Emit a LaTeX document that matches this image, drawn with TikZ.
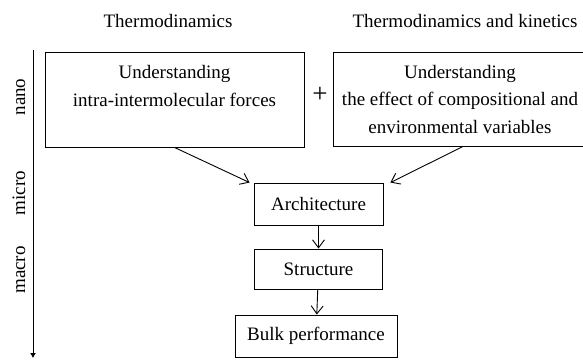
\documentclass[tikz,border=0pt]{standalone}
\usepackage{fontspec}
\setmainfont{Liberation Serif}
\usetikzlibrary{arrows.meta}

\begin{document}
\begin{tikzpicture}[
  x=1pt, y=-1pt,
  font=\fontsize{19}{27.5}\selectfont,
  box/.style={draw, line width=0.9pt, align=center, inner sep=3pt},
  flow/.style={draw, line width=0.9pt, ->, >={Straight Barb[length=8pt, width=12pt]}},
  scalelbl/.style={rotate=90, anchor=base},
  head/.style={anchor=center},
]
\clip (0,0) rectangle (583,359);
% header texts
\node[head] (thermo)  at (168,21) {Thermodinamics};
\node[head] (thermok) at (465,21) {Thermodinamics and kinetics};
% size axis on the left
\coordinate (axtop) at (33,50);
\coordinate (axbot) at (33,358);
\draw[line width=0.9pt, -{Latex[length=5pt, width=6pt]}] (axtop) -- (axbot);
\node[scalelbl] (nano)  at (25,97)  {nano};
\node[scalelbl] (micro) at (25,193) {micro};
\node[scalelbl] (macro) at (25,270) {macro};
% the two upper boxes
\node[box, minimum width=259pt, minimum height=95pt] (forces) at (174.5,99.5)
  {Understanding\\intra-intermolecular forces\\\mbox{}};
\node[font=\fontsize{27}{27}\selectfont] (plus) at (320,95) {+};
\node[box, minimum width=254pt, minimum height=94pt] (variables) at (460,99)
  {Understanding\\the effect of compositional and\\environmental variables};
% chain
\node[box, minimum width=129pt, minimum height=42pt] (arch)   at (318.5,204) {Architecture};
\node[box, minimum width=128pt, minimum height=40pt] (struct) at (318.5,269) {Structure};
\node[box, minimum width=162pt, minimum height=42pt] (bulk)   at (316,336)   {Bulk performance};
% connectors
\draw[flow] (forces.south) -- ([xshift=-4pt]arch.north west);
\draw[flow] ([xshift=3pt]variables.south) -- ([xshift=7pt]arch.north east);
\draw[flow] (arch) -- (struct);
\draw[flow] (struct) -- (bulk);
\end{tikzpicture}
\end{document}
